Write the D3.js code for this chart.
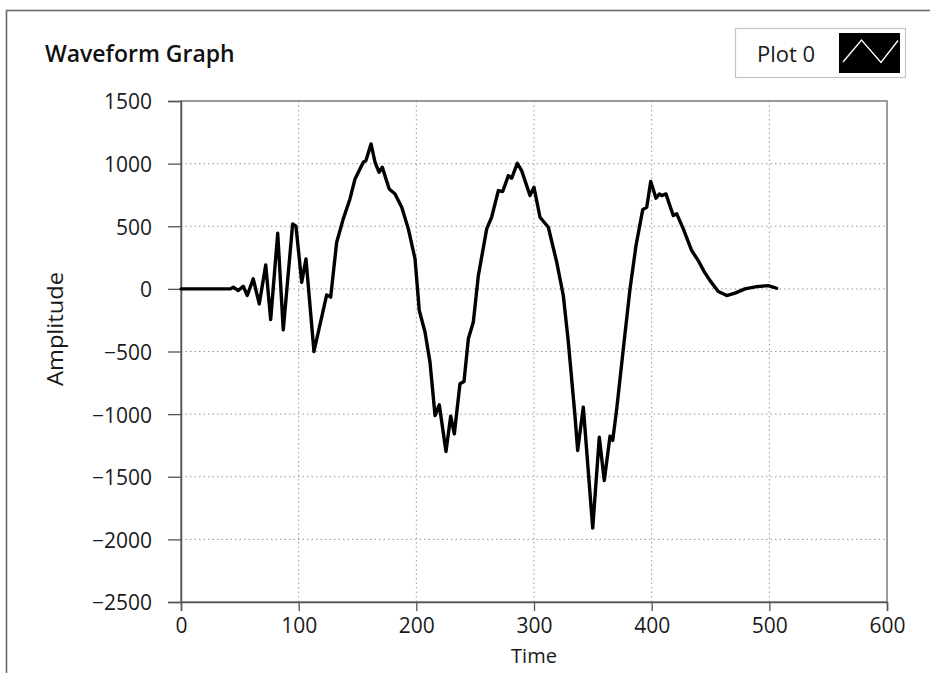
<!DOCTYPE html>
<html>
<head>
<meta charset="utf-8">
<script src="https://cdn.jsdelivr.net/npm/d3@7"></script>
<style>
  html, body { margin: 0; padding: 0; background: #fff; }
  svg { display: block; font-family: "Open Sans", "Noto Sans", sans-serif; }
</style>
</head>
<body>
<svg id="chart" width="930" height="673"></svg>
<script>
// Waveform samples: time and amplitude
const times = [0, 42, 44.4, 48.7, 52.9, 56.3, 61.4, 66.5, 72.0, 76.2, 82.2, 86.9, 94.9, 97.7,
  102.6, 106.2, 113.0, 123.8, 127.2, 132.3, 137.9, 143.6, 147.9, 154.9, 157.2, 161.5, 164.9,
  168.3, 171.1, 174.2, 177.0, 181.9, 187.6, 193.2, 198.9, 202.5, 207.4, 211.6, 215.9, 219.5,
  225.2, 229.2, 232.3, 237.1, 240.5, 244.2, 248.4, 252.7, 259.8, 264.0, 269.7, 273.4, 278.2,
  281.0, 285.8, 289.5, 296.6, 300.0, 305.1, 312.2, 319.3, 324.9, 329.2, 334.8, 337.1, 341.9,
  349.9, 355.5, 359.7, 364.6, 366.9, 370.3, 375.9, 381.6, 386.7, 392.4, 395.8, 399.2, 403.7,
  406.5, 408.5, 412.2, 415.0, 418.4, 421.3, 426.9, 434.0, 439.6, 444.5, 449.6, 456.6, 463.8,
  470.8, 479.3, 489.2, 499.1, 506.2];
const amplitudes = [0, 0, 13, -13, 21, -53, 80, -120, 191, -245, 444, -327, 519, 500,
  53, 239, -500, -48, -66, 372, 559, 718, 878, 1011, 1024, 1157, 1011,
  931, 971, 878, 798, 758, 652, 479, 239, -173, -346, -585, -1011, -926,
  -1298, -1016, -1157, -758, -740, -399, -266, 106, 479, 572, 785, 777, 904,
  883, 1003, 944, 745, 811, 572, 492, 213, -53, -426, -1011, -1290, -944,
  -1910, -1184, -1530, -1176, -1210, -958, -479, 0, 346, 633, 652, 857, 724,
  758, 745, 758, 678, 585, 599, 479, 306, 226, 140, 66, -21, -53,
  -34, 0, 18, 26, 5];

const xTicks = [0, 100, 200, 300, 400, 500, 600];
const yTicks = [-2500, -2000, -1500, -1000, -500, 0, 500, 1000, 1500];

const title = "Waveform Graph";
const xLabel = "Time";
const yLabel = "Amplitude";
const seriesName = "Plot 0";

const svg = d3.select("#chart");
const plot = { left: 181, right: 887, top: 101, bottom: 602 };

const x = d3.scaleLinear().domain([0, 600]).range([plot.left, plot.right]);
const y = d3.scaleLinear().domain([-2500, 1500]).range([plot.bottom, plot.top]);

// Outer panel frame
svg.append("rect")
  .attr("x", 6.5).attr("y", 10.5)
  .attr("width", 960).attr("height", 700)
  .attr("fill", "#fff").attr("stroke", "#6b6b6b").attr("stroke-width", 1.6);

// Title
svg.append("text")
  .attr("x", 45).attr("y", 62)
  .attr("font-size", 23).attr("font-weight", 600)
  .attr("fill", "#111")
  .text(title);

// Dotted grid
const grid = svg.append("g").attr("stroke", "#9a9a9a").attr("stroke-width", 1)
  .attr("stroke-dasharray", "1.5,3");
grid.selectAll("line.v").data(xTicks.slice(1, -1)).join("line")
  .attr("x1", d => x(d)).attr("x2", d => x(d))
  .attr("y1", plot.top).attr("y2", plot.bottom);
grid.selectAll("line.h").data(yTicks.slice(1, -1)).join("line")
  .attr("x1", plot.left).attr("x2", plot.right)
  .attr("y1", d => y(d)).attr("y2", d => y(d));

// Plot border
svg.append("rect")
  .attr("x", plot.left).attr("y", plot.top)
  .attr("width", plot.right - plot.left).attr("height", plot.bottom - plot.top)
  .attr("fill", "none").attr("stroke", "#7a7a7a").attr("stroke-width", 1.5);

// Axes
const xAxis = d3.axisBottom(x).tickValues(xTicks).tickSize(9).tickPadding(4)
  .tickFormat(d3.format("d"));
const yAxis = d3.axisLeft(y).tickValues(yTicks).tickSize(13).tickPadding(16)
  .tickFormat(d => d < 0 ? "\u2212" + Math.abs(d) : String(d));

const gx = svg.append("g").attr("transform", `translate(0,${plot.bottom})`).call(xAxis);
const gy = svg.append("g").attr("transform", `translate(${plot.left},0)`).call(yAxis);
[gx, gy].forEach(g => {
  g.select(".domain").attr("stroke", "#555").attr("stroke-width", 1.5);
  g.selectAll(".tick line").attr("stroke", "#555").attr("stroke-width", 1.3);
  g.selectAll(".tick text").attr("font-size", 21).attr("fill", "#1a1a1a")
    .attr("font-family", "'Open Sans', 'Noto Sans', sans-serif");
});
gx.selectAll(".tick text").attr("dy", "0.85em");
gy.selectAll(".tick text").attr("dy", "0.38em");

// Axis titles
svg.append("text")
  .attr("x", x(300)).attr("y", 663)
  .attr("text-anchor", "middle").attr("font-size", 20).attr("fill", "#1a1a1a")
  .text(xLabel);
svg.append("text")
  .attr("transform", `translate(63,329) rotate(-90)`)
  .attr("text-anchor", "middle").attr("font-size", 22).attr("fill", "#1a1a1a")
  .attr("textLength", 114).attr("lengthAdjust", "spacingAndGlyphs")
  .text(yLabel);

// Waveform trace
const data = times.map((t, i) => [t, amplitudes[i]]);
svg.append("path")
  .datum(data)
  .attr("fill", "none")
  .attr("stroke", "#000")
  .attr("stroke-width", 3.4)
  .attr("stroke-linejoin", "round")
  .attr("stroke-linecap", "round")
  .attr("d", d3.line().x(d => x(d[0])).y(d => y(d[1])));

// Legend
const lg = svg.append("g");
lg.append("rect")
  .attr("x", 735.5).attr("y", 28.5).attr("width", 170).attr("height", 49)
  .attr("fill", "#fff").attr("stroke", "#c4c4c4").attr("stroke-width", 1.2);
lg.append("text")
  .attr("x", 757).attr("y", 62)
  .attr("font-size", 22).attr("fill", "#1a1a1a")
  .text(seriesName);
lg.append("rect")
  .attr("x", 839).attr("y", 33).attr("width", 61).attr("height", 40)
  .attr("fill", "#000");
lg.append("path")
  .attr("d", "M843,62 L861.5,40 L881,62.5 L898,40.5")
  .attr("fill", "none").attr("stroke", "#fff").attr("stroke-width", 1.4);
</script>
</body>
</html>
